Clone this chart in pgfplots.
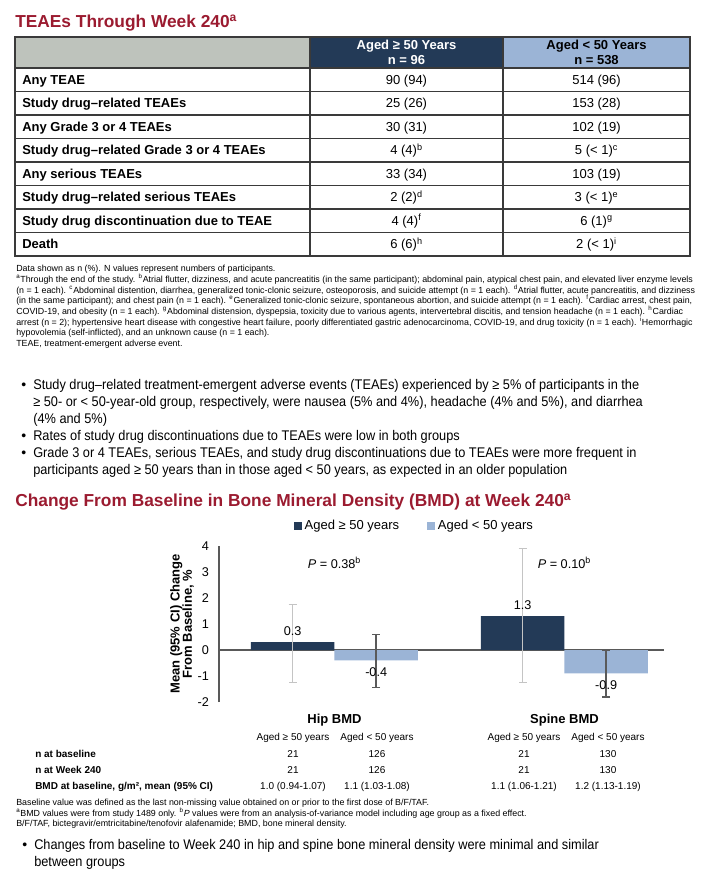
\documentclass[border=0pt]{standalone}
\usepackage{pgfplots}
\pgfplotsset{compat=1.18}
\usepackage{fontspec}
\setmainfont{Liberation Sans}
\newfontfamily\narrowfont{Liberation Sans}[FakeStretch=0.912]
\definecolor{titlered}{HTML}{9B1B30}
\definecolor{navy}{HTML}{233A57}
\definecolor{paleblue}{HTML}{9BB4D6}
\definecolor{headgray}{HTML}{BEC3BC}
\definecolor{linegray}{HTML}{3A3A3A}
\definecolor{axgray}{HTML}{595959}
\definecolor{errlight}{HTML}{C4C4C4}
\definecolor{errdark}{HTML}{5A5A5A}
\newcommand{\fs}[2]{\fontsize{#1}{#2}\selectfont}

\begin{document}
\begin{tikzpicture}
\begin{scope}[x=0.75pt,y=-0.75pt]
\path[use as bounding box] (0,0) rectangle (705,879);

% ---- first title
\node[anchor=base west, inner sep=0, text=titlered, font=\bfseries\fs{13pt}{15pt}]
  at (15,27) {TEAEs Through Week 240\textsuperscript{a}};

% ---- TEAE table
\fill[headgray] (15,37) rectangle (310,68);
\fill[navy] (310,37) rectangle (503,68);
\fill[paleblue] (503,37) rectangle (690,68);
\foreach \yy in {68,91.5,115,138.5,162,185.5,209,232.5}
  \draw[linegray, line width=0.9pt] (15,\yy) -- (690,\yy);
\draw[linegray, line width=0.9pt] (310,37) -- (310,256) (503,37) -- (503,256);
\draw[linegray, line width=1.3pt] (15,37) rectangle (690,256);

\node[font=\bfseries\fs{9.75pt}{11.3pt}, text=white, align=center] at (406.5,52.5) {Aged ≥ 50 Years\\n = 96};
\node[font=\bfseries\fs{9.75pt}{11.3pt}, align=center] at (596.5,52.5) {Aged < 50 Years\\n = 538};

\foreach [count=\i from 0] \lab/\va/\vb in {
  Any TEAE/90 (94)/514 (96),
  Study drug–related TEAEs/25 (26)/153 (28),
  Any Grade 3 or 4 TEAEs/30 (31)/102 (19),
  Study drug–related Grade 3 or 4 TEAEs/4 (4)\textsuperscript{b}/5 (< 1)\textsuperscript{c},
  Any serious TEAEs/33 (34)/103 (19),
  Study drug–related serious TEAEs/2 (2)\textsuperscript{d}/3 (< 1)\textsuperscript{e},
  Study drug discontinuation due to TEAE/4 (4)\textsuperscript{f}/6 (1)\textsuperscript{g},
  Death/6 (6)\textsuperscript{h}/2 (< 1)\textsuperscript{i}} {
  \pgfmathsetmacro\yb{79.75+23.5*\i+4.6}
  \node[anchor=base west, inner sep=0, font=\bfseries\fs{9.75pt}{11pt}] at (22,\yb) {\lab};
  \node[anchor=base, inner sep=0, font=\fs{9.75pt}{11pt}] at (406.5,\yb) {\va};
  \node[anchor=base, inner sep=0, font=\fs{9.75pt}{11pt}] at (596.5,\yb) {\vb};
}

% ---- footnotes of the table
\foreach [count=\i from 0] \txt in {
  {Data shown as n (\%). N values represent numbers of participants.},
  {\textsuperscript{a}Through the end of the study. \textsuperscript{b}Atrial flutter, dizziness, and acute pancreatitis (in the same participant); abdominal pain, atypical chest pain, and elevated liver enzyme levels},
  {(n = 1 each). \textsuperscript{c}Abdominal distention, diarrhea, generalized tonic-clonic seizure, osteoporosis, and suicide attempt (n = 1 each). \textsuperscript{d}Atrial flutter, acute pancreatitis, and dizziness},
  {(in the same participant); and chest pain (n = 1 each). \textsuperscript{e}Generalized tonic-clonic seizure, spontaneous abortion, and suicide attempt (n = 1 each). \textsuperscript{f}Cardiac arrest, chest pain,},
  {COVID-19, and obesity (n = 1 each). \textsuperscript{g}Abdominal distension, dyspepsia, toxicity due to various agents, intervertebral discitis, and tension headache (n = 1 each). \textsuperscript{h}Cardiac},
  {arrest (n = 2); hypertensive heart disease with congestive heart failure, poorly differentiated gastric adenocarcinoma, COVID-19, and drug toxicity (n = 1 each). \textsuperscript{i}Hemorrhagic},
  {hypovolemia (self-inflicted), and an unknown cause (n = 1 each).},
  {TEAE, treatment-emergent adverse event.}} {
  \pgfmathsetmacro\yb{268.5+10.67*\i+3.3}
  \node[anchor=base west, inner sep=0, font=\fs{6.64pt}{8pt}] at (16,\yb) {\txt};
}

% ---- bullets
\foreach \yb in {389,440,457}
  \node[anchor=base west, inner sep=0, font=\fs{10.5pt}{12pt}] at (21,\yb) {\textbullet};
\foreach [count=\i from 0] \txt in {
  {Study drug–related treatment-emergent adverse events (TEAEs) experienced by ≥ 5\% of participants in the},
  {≥ 50- or < 50-year-old group, respectively, were nausea (5\% and 4\%), headache (4\% and 5\%), and diarrhea},
  {(4\% and 5\%)},
  {Rates of study drug discontinuations due to TEAEs were low in both groups},
  {Grade 3 or 4 TEAEs, serious TEAEs, and study drug discontinuations due to TEAEs were more frequent in},
  {participants aged ≥ 50 years than in those aged < 50 years, as expected in an older population}} {
  \pgfmathsetmacro\yb{389+17*\i}
  \node[anchor=base west, inner sep=0, font=\narrowfont\fs{10.5pt}{12pt}] at (33,\yb) {\txt};
}

% ---- second title
\node[anchor=base west, inner sep=0, text=titlered, font=\bfseries\fs{13pt}{15pt}]
  at (15,506) {Change From Baseline in Bone Mineral Density (BMD) at Week 240\textsuperscript{a}};

% ---- table under the chart
\node[anchor=base, inner sep=0, font=\bfseries\fs{9.75pt}{11pt}] at (334.5,723) {Hip BMD};
\node[anchor=base, inner sep=0, font=\bfseries\fs{9.75pt}{11pt}] at (564.5,723) {Spine BMD};
\foreach \xx/\txt in {293/Aged ≥ 50 years, 377/Aged < 50 years, 524/Aged ≥ 50 years, 608/Aged < 50 years}
  \node[anchor=base, inner sep=0, font=\fs{7.5pt}{9pt}] at (\xx,740) {\txt};
\foreach \yb/\lab/\a/\b/\c/\d in {
  757/n at baseline/21/126/21/130,
  773/n at Week 240/21/126/21/130,
  789.5/{BMD at baseline, g/m², mean (95\% CI)}/1.0 (0.94-1.07)/1.1 (1.03-1.08)/1.1 (1.06-1.21)/1.2 (1.13-1.19)} {
  \node[anchor=base west, inner sep=0, font=\bfseries\fs{7.5pt}{9pt}] at (35,\yb) {\lab};
  \node[anchor=base, inner sep=0, font=\fs{7.5pt}{9pt}] at (293,\yb) {\a};
  \node[anchor=base, inner sep=0, font=\fs{7.5pt}{9pt}] at (377,\yb) {\b};
  \node[anchor=base, inner sep=0, font=\fs{7.5pt}{9pt}] at (524,\yb) {\c};
  \node[anchor=base, inner sep=0, font=\fs{7.5pt}{9pt}] at (608,\yb) {\d};
}

% ---- footnotes of the chart
\foreach [count=\i from 0] \txt in {
  {Baseline value was defined as the last non-missing value obtained on or prior to the first dose of B/F/TAF.},
  {\textsuperscript{a}BMD values were from study 1489 only. \textsuperscript{b}\textit{P} values were from an analysis-of-variance model including age group as a fixed effect.},
  {B/F/TAF, bictegravir/emtricitabine/tenofovir alafenamide; BMD, bone mineral density.}} {
  \pgfmathsetmacro\yb{802.5+10.5*\i+3.2}
  \node[anchor=base west, inner sep=0, font=\fs{6.65pt}{8pt}] at (16,\yb) {\txt};
}
\node[anchor=base west, inner sep=0, font=\fs{10.5pt}{12pt}] at (22,849) {\textbullet};
\node[anchor=base west, inner sep=0, font=\narrowfont\fs{10.5pt}{12pt}] at (34,849)
  {Changes from baseline to Week 240 in hip and spine bone mineral density were minimal and similar};
\node[anchor=base west, inner sep=0, font=\narrowfont\fs{10.5pt}{12pt}] at (34,866) {between groups};
\end{scope}

% ---- bar chart
\begin{axis}[
  at={(164.25pt,-526.5pt)}, anchor=south west,
  scale only axis, width=333.75pt, height=117pt,
  xmin=0.498, xmax=2.433, ymin=-2, ymax=4,
  axis x line*=middle, axis y line*=left,
  x axis line style={-, color=axgray, line width=1.1pt},
  y axis line style={-, color=axgray, line width=1.1pt},
  xtick=\empty, ytick={-2,-1,0,1,2,3,4}, major tick length=0pt,
  yticklabel style={font=\fs{9.5pt}{11pt}, xshift=-4pt},
  /pgf/number format/assume math mode=true,
  clip=false,
  ylabel={Mean (95\% CI) Change\\From Baseline, \%},
  every axis y label/.style={at={(axis description cs:-0.083,0.5)}, rotate=90, anchor=center,
    font=\bfseries\fs{9.75pt}{9.3pt}, align=center},
  legend style={draw=none, fill=none, at={(0.44,1.128)}, anchor=center,
    legend columns=2, font=\fs{9.75pt}{11pt}, inner sep=0pt,
    /tikz/every even column/.append style={column sep=19pt}},
]
% bars sit at their own x (group centre -/+ half a bar width)
\addplot[ybar, bar width=0.363, bar shift=0, fill=navy, draw=none,
  legend image code/.code={\fill[navy] (0pt,-3pt) rectangle (6pt,3pt);},
  point meta=explicit symbolic, nodes near coords,
  every node near coord/.append style={anchor=south, inner sep=5pt, text=black, font=\fs{9.5pt}{11pt}},
  error bars/.cd, y dir=both, y explicit,
  error bar style={line width=1.1pt, color=errlight},
  error mark options={rotate=90, line width=1.1pt, color=errlight, mark size=3pt}]
  table[x=x, y=y, y error plus=ep, y error minus=em, meta=lab] {
x y ep em lab
0.8185 0.3 1.45 1.55 0.3
1.8185 1.3 2.6 2.55 1.3
};
\addlegendentry{Aged ≥ 50 years}
\addplot[ybar, bar width=0.363, bar shift=0, fill=paleblue, draw=none,
  legend image code/.code={\fill[paleblue] (0pt,-3pt) rectangle (6pt,3pt);},
  point meta=explicit symbolic, nodes near coords,
  every node near coord/.append style={anchor=north, inner sep=5pt, text=black, font=\fs{9.5pt}{11pt}},
  error bars/.cd, y dir=both, y explicit,
  error bar style={line width=1.1pt, color=errdark},
  error mark options={rotate=90, line width=1.1pt, color=errdark, mark size=3pt}]
  table[x=x, y=y, y error plus=ep, y error minus=em, meta=lab] {
x y ep em lab
1.1815 -0.4 1.0 1.05 -0.4
2.1815 -0.9 0.9 0.9 -0.9
};
\addlegendentry{Aged < 50 years}
\node[font=\fs{9.5pt}{11pt}] at (axis cs:1,3.35) {\textit{P} = 0.38\textsuperscript{b}};
\node[font=\fs{9.5pt}{11pt}] at (axis cs:2,3.35) {\textit{P} = 0.10\textsuperscript{b}};
\end{axis}
\end{tikzpicture}
\end{document}
